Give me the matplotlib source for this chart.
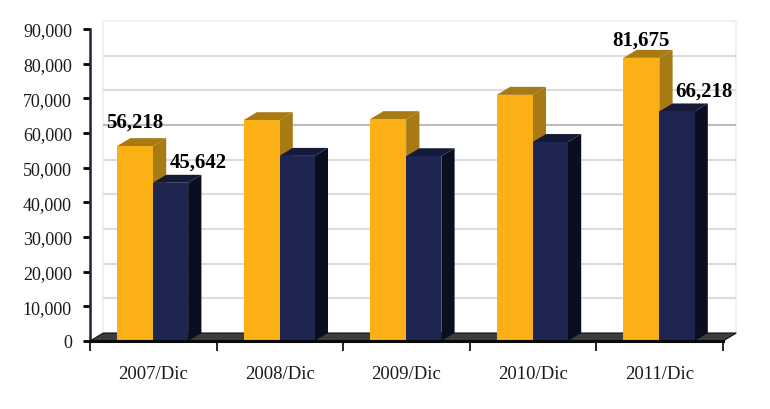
import matplotlib
matplotlib.use("Agg")
import matplotlib.pyplot as plt
from matplotlib.patches import Polygon, Rectangle

categories = ["2007/Dic", "2008/Dic", "2009/Dic", "2010/Dic", "2011/Dic"]
series_a = [56218, 63700, 64000, 71000, 81675]
series_b = [45642, 53400, 53300, 57400, 66218]
y_ticks = list(range(0, 90001, 10000))
labels_a = {0: "56,218", 4: "81,675"}
labels_b = {0: "45,642", 4: "66,218"}
label_lift_a = {0: 5, 4: 0}

YELLOW, YEL_TOP, YEL_SIDE = "#fbb116", "#a87a14", "#a87a14"
NAVY, NAVY_TOP, NAVY_SIDE = "#1d2550", "#141a38", "#0b0e1e"
DX, DY = 0.105, 2300
A0, A1, B1 = 0.213, 0.497, 0.775
SERIF = "Liberation Serif"

fig = plt.figure(figsize=(7.7, 4.1), dpi=100)
ax = fig.add_axes([90 / 770, 68 / 410, 633 / 770, 312 / 410])
ax.set_xlim(0, 5)
ax.set_ylim(0, 90000)
ax.patch.set_visible(False)

# back wall
ax.add_patch(Rectangle((DX, DY), 5, 90000, fc="white", ec="#efefef", lw=1.2, clip_on=False, zorder=1))
grid_colors = {90000: "#f0f0f0", 60000: "#bdbdbd"}
for v in y_ticks[1:]:
    ax.plot([DX, 5 + DX], [v + DY, v + DY], color=grid_colors.get(v, "#dcdcdc"),
            lw=1.5, clip_on=False, zorder=1.5, solid_capstyle="butt")
# floor
ax.add_patch(Polygon([(0, 0), (5, 0), (5 + DX, DY), (DX, DY)], fc="#3c3d40", ec="#111111", lw=0.8,
                     clip_on=False, zorder=2))

def bar3d(x0, x1, h, front, top, side):
    ax.add_patch(Polygon([(x1, 0), (x1 + DX, DY), (x1 + DX, h + DY), (x1, h)], fc=side, ec="none", clip_on=False, zorder=3))
    ax.add_patch(Polygon([(x0, h), (x0 + DX, h + DY), (x1 + DX, h + DY), (x1, h)], fc=top, ec="none", clip_on=False, zorder=3))
    ax.bar(x0, h, width=x1 - x0, align="edge", color=front, zorder=3.2, clip_on=False)

for i in range(len(categories)):
    bar3d(i + A0, i + A1, series_a[i], YELLOW, YEL_TOP, YEL_SIDE)
    bar3d(i + A1, i + B1, series_b[i], NAVY, NAVY_TOP, NAVY_SIDE)

# data labels
for i, t in labels_a.items():
    ax.annotate(t, (i + (A0 + A1) / 2, series_a[i] + DY), xytext=(0, label_lift_a[i]), textcoords="offset points",
                ha="center", va="bottom", family=SERIF, weight="bold", fontsize=15, color="black", zorder=5)
for i, t in labels_b.items():
    ax.annotate(t, (i + B1 + 0.1, series_b[i] + DY), xytext=(-2, 2), textcoords="offset points",
                ha="center", va="bottom", family=SERIF, weight="bold", fontsize=15, color="black", zorder=5)

# axes
for s in ("top", "right"):
    ax.spines[s].set_visible(False)
ax.spines["left"].set_color("#1c2340")
ax.spines["left"].set_linewidth(1.8)
ax.spines["bottom"].set_color("#0a0a0a")
ax.spines["bottom"].set_linewidth(2.2)
ax.spines["left"].set_zorder(4)
ax.spines["bottom"].set_zorder(4)
ax.set_yticks(y_ticks)
ax.set_yticklabels([f"{v:,}" for v in y_ticks], family=SERIF, fontsize=13, color="#1a1a1a")
ax.set_xticks(range(6))
ax.set_xticklabels([])
ax.set_xticks([i + 0.5 for i in range(5)], minor=True)
ax.set_xticklabels(categories, minor=True, family=SERIF, fontsize=13.5, color="#1a1a1a")
ax.tick_params(axis="y", which="major", length=5, width=2, color="black", pad=8)
ax.tick_params(axis="x", which="major", length=7, width=1.2, color="black")
ax.tick_params(axis="x", which="minor", length=0, pad=17)

fig.savefig("out.png", dpi=100, facecolor="white")
